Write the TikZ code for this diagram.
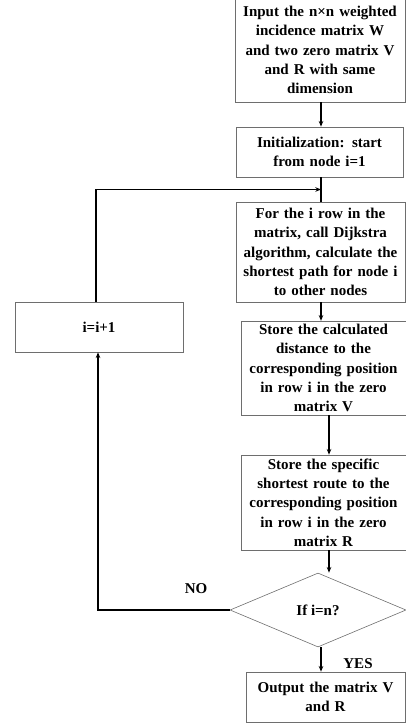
\documentclass[tikz,border=0pt]{standalone}
\usepackage{fontspec}
\setmainfont{Liberation Serif}
\usepackage{tikz}
\usetikzlibrary{positioning,arrows.meta,calc,shapes.geometric}
\definecolor{framegray}{RGB}{110,110,110}

\begin{document}
\begin{tikzpicture}[
  x=1pt,y=-1pt,
  >={Stealth[length=2mm,width=1.6mm]},
  procbox/.style={draw=framegray,line width=0.6pt,fill=white,inner sep=3pt,font=\fontsize{15}{19.3}\selectfont\bfseries,align=center},
  decbox/.style={draw=framegray,line width=0.6pt,diamond,aspect=2.38,inner sep=0pt,minimum width=176pt,minimum height=74pt,font=\fontsize{15}{19.3}\selectfont\bfseries},
  lbl/.style={font=\fontsize{15}{17}\selectfont\bfseries},
  ar/.style={->,line width=1.3pt,black}
]
\useasboundingbox (0,0) rectangle (406,725);
\clip (0,0) rectangle (406,725);

% RIGHT COLUMN: main steps
\node[procbox,minimum width=170pt,minimum height=104pt,text width=164pt] (input) at (320,50) {Input the n×n weighted\\incidence matrix W\\and two zero matrix V\\and R with same\\dimension};
\node[procbox,minimum width=167pt,minimum height=50pt,text width=161pt] (init) at (319.5,152) {Initialization: start\\from node i=1};
\node[procbox,minimum width=169pt,minimum height=100pt,text width=163pt] (dijk) at (320.5,252) {For the i row in the\\matrix, call Dijkstra\\algorithm, calculate the\\shortest path for node i\\to other nodes};
\node[procbox,minimum width=165pt,minimum height=92pt,text width=159pt] (storev) at (323.5,368) {Store the calculated\\distance to the\\corresponding position\\in row i in the zero\\matrix V};
\node[procbox,minimum width=165pt,minimum height=95pt,text width=159pt] (storer) at (323.5,502.5) {Store the specific\\shortest route to the\\corresponding position\\in row i in the zero\\matrix R};
\node[decbox] (test) at (318,610) {If i=n?};
\node[procbox,minimum width=159pt,minimum height=50pt,text width=153pt] (output) at (325.5,697) {Output the matrix V\\and R};

% LEFT: counter
\node[procbox,minimum width=168pt,minimum height=50pt,text width=162pt] (incr) at (99,327) {i=i+1};

% straight arrows
\coordinate (join) at (321,189.5);
\draw[ar] (input.south -| join) -- (init.north -| join);
\draw[line width=1.3pt] (init.south -| join) -- (dijk.north -| join);
\draw[ar] (dijk.south -| join) -- (storev.north -| join);
\draw[ar] ([xshift=5.5pt]storev.south) -- ([xshift=5.5pt]storev.south |- storer.north);
\draw[ar] ([xshift=5.5pt]storer.south) -- ([xshift=5.5pt]storer.south |- test.north);
\draw[ar] (test.south -| join) -- (output.north -| join);

% loop back
\draw[ar] (test.west) -- (98,610) -- (incr.south -| 98,0);
\draw[ar] (incr.north -| 96,0) -- (96,189.5) -- (join);

% labels
\node[lbl] (no) at (196,589) {NO};
\node[lbl] (yes) at (358,664) {YES};
\end{tikzpicture}
\end{document}
